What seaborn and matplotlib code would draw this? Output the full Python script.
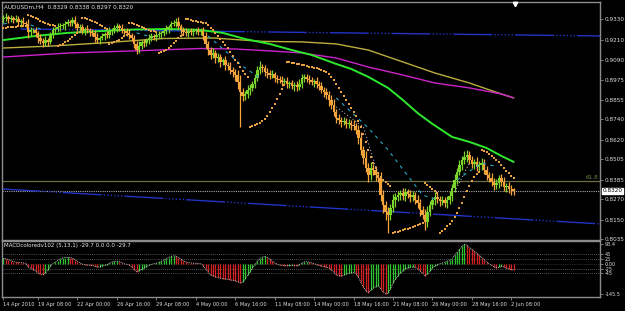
import numpy as np
import pandas as pd
import matplotlib
matplotlib.use("Agg")
import matplotlib.pyplot as plt
import matplotlib.transforms as mtrans
import seaborn as sns

# ---------------- data (prices in pips = 1e-4) ----------------
first_open = 9330
closes = [
    9338, 9343, 9332, 9338, 9326, 9332, 9314, 9320, 9308, 9302, 9255, 9267, 9267, 9249, 9220, 9202,
    9190, 9208, 9196, 9238, 9267, 9273, 9285, 9290, 9296, 9302, 9314, 9308, 9326, 9302, 9279, 9285,
    9261, 9273, 9267, 9255, 9249, 9226, 9208, 9220, 9232, 9243, 9238, 9261, 9267, 9279, 9290, 9279,
    9267, 9261, 9249, 9238, 9220, 9185, 9149, 9173, 9196, 9190, 9208, 9220, 9232, 9226, 9238, 9243,
    9249, 9261, 9273, 9285, 9302, 9308, 9314, 9290, 9267, 9255, 9249, 9261, 9255, 9261, 9267, 9255,
    9261, 9232, 9185, 9149, 9120, 9132, 9102, 9108, 9078, 9090, 9061, 9055, 9031, 9019, 9002, 8961,
    8902, 8878, 8890, 8914, 8925, 8949, 8984, 9031, 9049, 9043, 9019, 9014, 9002, 9008, 8984, 8978,
    8973, 8961, 8967, 8949, 8955, 8937, 8943, 8931, 8949, 8984, 8990, 8978, 8973, 8961, 8967, 8949,
    8937, 8914, 8902, 8884, 8855, 8825, 8784, 8749, 8737, 8725, 8731, 8714, 8719, 8708, 8702, 8678,
    8631, 8560, 8513, 8454, 8413, 8454, 8442, 8413, 8395, 8295, 8236, 8195, 8178, 8219, 8266, 8284,
    8295, 8307, 8290, 8313, 8301, 8284, 8295, 8266, 8248, 8207, 8178, 8136, 8195, 8236, 8266, 8284,
    8272, 8260, 8266, 8248, 8266, 8290, 8336, 8383, 8431, 8472, 8501, 8519, 8531, 8501, 8478, 8490,
    8460, 8472, 8484, 8442, 8413, 8395, 8372, 8354, 8366, 8395, 8372, 8342, 8348, 8330, 8329, 8320,
]
wick_up = [
    18, 25, 12, 20, 14, 22, 16, 10, 24, 15, 30, 18, 12, 20, 14, 22,
    16, 26, 12, 20, 15, 10, 22, 18, 12, 16, 20, 14, 18, 26, 12, 16,
    20, 14, 22, 12, 18, 16, 26, 14, 20, 12, 18, 24, 14, 20, 16, 12,
    22, 14, 18, 26, 12, 20, 16, 30, 14, 18, 12, 22, 16, 14, 20, 18,
    12, 16, 22, 14, 20, 18, 26, 30, 14, 18, 22, 12, 16, 20, 14, 18,
    16, 22, 26, 18, 20, 30, 16, 24, 20, 14, 22, 18, 26, 16, 20, 30,
    40, 26, 20, 30, 22, 18, 26, 22, 34, 20, 16, 24, 18, 22, 14, 20,
    18, 26, 16, 22, 14, 20, 18, 24, 30, 22, 18, 16, 26, 20, 14, 22,
    18, 24, 20, 26, 22, 30, 34, 20, 26, 18, 24, 16, 22, 20, 26, 18,
    30, 36, 26, 40, 30, 34, 22, 26, 20, 36, 30, 24, 30, 26, 34, 22,
    26, 20, 30, 22, 18, 26, 24, 20, 28, 22, 26, 34, 36, 24, 20, 26,
    22, 18, 26, 20, 24, 30, 22, 34, 26, 32, 24, 36, 30, 22, 26, 20,
    28, 22, 32, 24, 26, 20, 30, 22, 26, 18, 24, 28, 20, 22, 26, 9,
]
wick_dn = [
    22, 16, 26, 18, 20, 14, 24, 30, 16, 20, 36, 26, 18, 22, 30, 20,
    26, 18, 22, 14, 20, 24, 16, 22, 18, 26, 14, 20, 16, 22, 18, 24,
    20, 26, 16, 22, 18, 30, 20, 24, 14, 22, 18, 16, 26, 20, 22, 18,
    16, 24, 20, 22, 18, 26, 22, 20, 16, 24, 18, 22, 20, 16, 26, 18,
    22, 18, 16, 24, 20, 14, 22, 18, 26, 20, 16, 22, 18, 24, 20, 16,
    20, 26, 22, 30, 24, 20, 28, 22, 26, 18, 30, 24, 22, 26, 34, 40,
    206, 32, 26, 22, 30, 20, 24, 18, 26, 22, 20, 28, 24, 18, 26, 22,
    20, 24, 18, 26, 22, 20, 30, 24, 18, 22, 26, 20, 24, 18, 28, 22,
    26, 20, 30, 24, 34, 26, 22, 32, 24, 28, 20, 26, 22, 30, 24, 26,
    34, 30, 38, 26, 40, 32, 28, 34, 26, 38, 44, 48, 106, 30, 26, 40,
    26, 30, 22, 28, 24, 32, 26, 22, 30, 34, 26, 47, 32, 26, 22, 28,
    24, 30, 22, 26, 32, 24, 28, 22, 26, 20, 30, 24, 28, 22, 26, 32,
    26, 22, 30, 24, 28, 26, 22, 32, 24, 28, 26, 22, 30, 24, 34, 23,
]
sar = [
    9279, 9279, 9282, 9282, 9285, 9285, 9288, 9288, 9291, 9291,
    9356, 9350, 9344, 9338, 9332, 9320, 9314, 9309, 9303, 9297, 9294, 9291,
    9173, 9179, 9185, 9194, 9203, 9214, 9226, 9238, 9250, 9256,
    9338, 9335, 9332, 9326, 9320, 9314, 9306, 9297, 9288, 9279, 9273,
    9185, 9188, 9194, 9203, 9211, 9220, 9229, 9235,
    9309, 9306, 9303, 9297, 9291, 9285, 9279, 9273, 9267, 9261, 9259, 9256,
    9132, 9138, 9144, 9152, 9161, 9173, 9188, 9203, 9217, 9229, 9238,
    9332, 9329, 9326, 9323, 9320, 9317, 9314, 9311, 9306, 9297, 9279, 9267, 9250,
    9232, 9214, 9197, 9179, 9161, 9138, 9114, 9091, 9073, 9049, 9026, 9008, 8991,
    8696, 8699, 8705, 8714, 8722, 8731, 8743, 8761, 8784, 8808, 8831, 8861, 8890, 8920, 8943,
    9079, 9076, 9073, 9070, 9067, 9064, 9061, 9058, 9055, 9052, 9049, 9046, 9043,
    9038, 9032, 9026, 9020, 9008, 8991, 8973, 8949, 8926, 8902, 8879, 8855,
    8831, 8808, 8784, 8761, 8731, 8696, 8655, 8608, 8561, 8519, 8484, 8455, 8425,
    8401, 8384, 8372, 8360, 8348,
    8072, 8077, 8080, 8083, 8089, 8092, 8095, 8101, 8107, 8113, 8119, 8125, 8131,
    8366, 8354, 8343, 8331, 8319, 8307,
    8072, 8083, 8095, 8110, 8125, 8142, 8166, 8189, 8219, 8248, 8284, 8319, 8348,
    8378, 8401, 8419, 8431,
    8561, 8555, 8546, 8537, 8525, 8513, 8502, 8487, 8472, 8455, 8437, 8422, 8407, 8396,
]
macd = [
    26, 24, 20, 15, 10, 8, 6, 5, 4, 2,
    -15, -22, -28, -35, -45, -50, -52, -45,
    -30, -12, 0, 8, 15, 22, 27, 30, 31, 29,
    28, 20, 10, 5, -2, -5, -6, -7, -8,
    -12, -16, -15, -12, -8, -5, 2, 8, 12, 13,
    10, 5, 0, -3, -6, -15, -28, -38, -35, -28, -22, -14,
    -8, -3, 0, 2, 6, 12, 18, 24, 30, 35, 38, 37, 30, 22,
    14, 8, 5, 4, 3, 2, 1, 0,
    -10, -25, -40, -55, -58, -64, -66, -70, -72, -74, -75, -78, -80, -82, -86, -92, -90,
    -75, -55, -38, -22, -5, 12, 25, 32, 35, 30,
    22, 12, 4, -2, -6, -8, -9, -10, -9, -8, -9, -10, -6, 2,
    8, 10, 8, 4, 0, -4, -8, -12, -14, -16, -20, -30,
    -42, -52, -58, -60, -55, -50, -46, -44, -42, -48,
    -65, -90, -112, -130, -140, -128, -118, -110, -105, -120,
    -138, -145, -142, -120, -95, -75, -60, -45, -35,
    -25, -20, -18, -15, -18, -25, -35, -45, -60, -50, -35,
    -22, -12, -5, 0, 4, 8, 12, 18, 25, 40, 55,
    70, 85, 93.4, 90, 78, 70, 60, 50, 40, 30,
    20, 10, 0, -8, -15, -20, -18, -12, -15, -22, -25, -28, -29.7,
]

# moving averages (bar index, pips)
ma_green_bar = [0, 13, 26, 40, 53, 67, 80, 89, 98, 108, 117, 125, 135, 141, 148, 156, 162, 168, 174, 182, 189, 196, 202, 207]
ma_green_val = [9208, 9232, 9250, 9261, 9270, 9273, 9267, 9250, 9214, 9185, 9149, 9120, 9067, 9038, 8991, 8926, 8855, 8778, 8714, 8637, 8608, 8572, 8525, 8490]
ma_yellow_bar = [0, 20, 40, 65, 85, 105, 121, 135, 148, 162, 175, 189, 202, 207]
ma_yellow_val = [9161, 9173, 9191, 9217, 9220, 9200, 9197, 9185, 9149, 9079, 9014, 8955, 8890, 8867]
ma_magenta_bar = [0, 27, 53, 80, 94, 108, 121, 135, 148, 162, 175, 189, 202, 207]
ma_magenta_val = [9108, 9132, 9144, 9158, 9155, 9144, 9132, 9102, 9049, 9002, 8955, 8926, 8890, 8867]

# trend lines (bar, pips)
blue_top_bar = [7, 242]
blue_top_val = [9273, 9232]
blue_low_bar = [-1, 242]
blue_low_val = [8331, 8125]
fib_level = 0.8378
last_price = 0.8320

# cyan dashed and white dotted indicator segments (bar, pips)
cyan_segs = [
    ([0, 3], [9303, 9309]),
    ([11, 15], [9297, 9273]),
    ([54, 60], [9250, 9226]),
    ([83, 97, 105], [9232, 9055, 8973]),
    ([135, 148, 156, 170, 176], [8867, 8690, 8561, 8295, 8266]),
    ([184, 194, 199], [8384, 8484, 8466]),
]
white_segs = [
    ([135, 146, 152], [8814, 8696, 8413]),
    ([183, 189], [8313, 8484]),
]

price_ticks = [0.9330, 0.9210, 0.9090, 0.8975, 0.8855, 0.8740, 0.8620, 0.8505, 0.8385, 0.8270, 0.8150, 0.8035]
macd_ticks = [93.4, 45, 25, 0, -25, -45, -145.5]
macd_tick_labels = ["93.4", "45", "25", "0.00", "-25", "-45", "-145.5"]
macd_levels = [45, 25, -25, -45]
date_ticks = [0, 14, 30, 46, 62, 78, 94, 110, 126, 142, 158, 174, 190, 206]
date_labels = ["14 Apr 2010", "19 Apr 08:00", "22 Apr 00:00", "26 Apr 16:00", "29 Apr 08:00",
               "4 May 00:00", "6 May 16:00", "11 May 08:00", "14 May 00:00", "18 May 16:00",
               "21 May 08:00", "26 May 00:00", "28 May 16:00", "2 Jun 08:00"]

# ---------------- build ----------------
sns.set_theme(style="dark")
plt.rcParams['font.family'] = ['DejaVu Sans']
plt.rcParams['font.stretch'] = 'condensed'
FS = 4.6
TXT = "#DCDCDC"
BORDER = "#8C8C8C"

c = np.array(closes) / 1e4
o = np.r_[first_open, closes[:-1]] / 1e4
hi = np.maximum(o, c) + np.array(wick_up) / 1e4
lo = np.minimum(o, c) - np.array(wick_dn) / 1e4
bars = np.arange(len(c))
bull = c >= o
col_bull, col_bear = "#7BD52B", "#F4A43A"
colors = np.where(bull, col_bull, col_bear)

fig = plt.figure(figsize=(6.25, 3.11), dpi=100, facecolor="black")
ax = fig.add_axes([2 / 625, 71.5 / 311, 598 / 625, 237.5 / 311])
ax2 = fig.add_axes([2 / 625, 14.5 / 311, 598 / 625, 56 / 311])
for a in (ax, ax2):
    a.set_facecolor("black")
    for s in a.spines.values():
        s.set_color(BORDER)
        s.set_linewidth(1.0)
    a.grid(False)

xlim = (-0.6, 242)
ax.set_xlim(*xlim)
ax.set_ylim(0.8033, 0.9432)

# trend / level lines
mt4_dash = (0, (28, 1.5, 1, 1.5, 1, 1.5, 1, 1.5, 1, 1.5, 1, 1.5, 1, 1.5))
ax.plot(blue_top_bar, np.array(blue_top_val) / 1e4, color="#2233C8", lw=1.0, ls=mt4_dash, zorder=2)
ax.plot(blue_low_bar, np.array(blue_low_val) / 1e4, color="#2233C8", lw=1.0, ls=mt4_dash, zorder=2)
ax.axhline(fib_level, color="#6E6E40", lw=0.9, zorder=1)
ax.axhline(last_price, color="#A8A8A8", lw=0.8, ls=(0, (1, 1)), zorder=1)
ax.text(241.5, fib_level + 0.0004, "61.8", color="#6F8A45", fontsize=FS, ha="right", va="bottom")

# moving averages
sns.lineplot(x=ma_yellow_bar, y=np.array(ma_yellow_val) / 1e4, ax=ax, color="#BBAE3C", lw=1.0, zorder=3)
sns.lineplot(x=ma_magenta_bar, y=np.array(ma_magenta_val) / 1e4, ax=ax, color="#CC22CC", lw=1.0, zorder=3)
sns.lineplot(x=ma_green_bar, y=np.array(ma_green_val) / 1e4, ax=ax, color="#2EE82E", lw=1.4, zorder=3)

# candles
ax.vlines(bars, lo, hi, colors=colors, lw=0.9, zorder=4)
ax.bar(bars, np.maximum(np.abs(c - o), 0.0003), bottom=np.minimum(o, c), width=1.0,
       color=colors, linewidth=0, zorder=5)

# indicator segments
for xs, ys in cyan_segs:
    ax.plot(xs, np.array(ys) / 1e4, color="#25A8C8", lw=0.8, ls=(0, (3, 4)), zorder=6)
for xs, ys in white_segs:
    ax.plot(xs, np.array(ys) / 1e4, color="#D0D0D0", lw=0.7, ls=(0, (1, 2.5)), zorder=6)

# parabolic SAR
sns.scatterplot(x=bars, y=np.array(sar) / 1e4, ax=ax, color="#E8A040", s=1.0, marker="s",
                linewidth=0, zorder=7)

# right axis
ax.yaxis.tick_right()
ax.set_yticks(price_ticks)
ax.set_yticklabels([f"{t:.4f}" for t in price_ticks])
ax.tick_params(axis="y", colors=BORDER, labelcolor=TXT, labelsize=FS, length=2.0, width=0.6, pad=1.2,
               right=True, left=False)
ax.set_xticks([])
ax.set_xlabel("")
ax.set_ylabel("")
ax.text(1.004, last_price, "0.8320", transform=mtrans.blended_transform_factory(ax.transAxes, ax.transData),
        fontsize=FS, color="black", va="center", ha="left",
        bbox=dict(boxstyle="square,pad=0.12", fc="white", ec="white"))
ax.text(0.004, 0.987, "AUDUSDm,H4  0.8329 0.8338 0.8297 0.8320", transform=ax.transAxes,
        color="#E6E6E6", fontsize=FS, va="top", ha="left")
ax.plot([207.5], [0.992], transform=mtrans.blended_transform_factory(ax.transData, ax.transAxes),
        marker="v", color="white", ms=3.2, clip_on=False, zorder=8)

# MACD panel
mv = np.array(macd, dtype=float)
prev = np.r_[mv[0], mv[:-1]]
mcol = np.where(mv >= prev, "#2FC42F", "#D42020")
ax2.set_xlim(*xlim)
ax2.set_ylim(-158, 112)
for lv in macd_levels:
    ax2.axhline(lv, color="#6A6A6A", lw=0.6, ls=(0, (1, 1.5)), zorder=1)
ax2.axhline(0, color="#505050", lw=0.5, ls=(0, (1, 1.5)), zorder=1)
ax2.vlines(bars, 0, mv, colors=mcol, lw=0.9, zorder=2)
sns.lineplot(x=bars, y=mv, ax=ax2, color="#E0E0E0", lw=0.6, ls=(0, (1, 1.2)), zorder=3)
ax2.text(0.004, 0.95, "MACDcoloredv102 (5,13,1) -29.7 0.0 0.0 -29.7", transform=ax2.transAxes,
         color="#E6E6E6", fontsize=FS - 0.2, va="top", ha="left")
ax2.yaxis.tick_right()
ax2.set_yticks(macd_ticks)
ax2.set_yticklabels(macd_tick_labels)
ax2.tick_params(axis="y", colors=BORDER, labelcolor=TXT, labelsize=FS - 0.6, length=2.0, width=0.6, pad=1.2,
                right=True, left=False)
ax2.set_xticks(date_ticks)
ax2.set_xticklabels(date_labels)
for lbl in ax2.get_xticklabels():
    lbl.set_ha("left")
ax2.tick_params(axis="x", colors=BORDER, labelcolor=TXT, labelsize=FS - 0.55, length=2.5, width=0.6, pad=1.5,
                bottom=True)
ax2.set_xlabel("")
ax2.set_ylabel("")

fig.savefig("out.png", dpi=100, facecolor="black")
